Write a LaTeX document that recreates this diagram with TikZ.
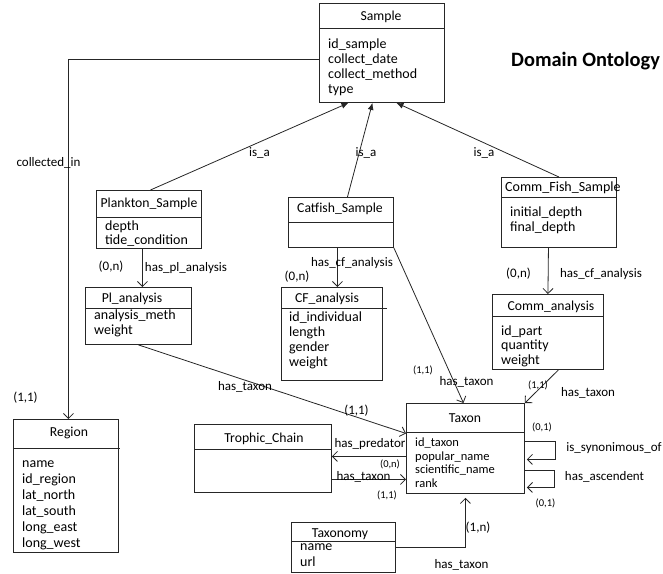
\documentclass[tikz,border=0pt]{standalone}
\usepackage{fontspec}
\setmainfont{Carlito}
\usetikzlibrary{arrows.meta}

\begin{document}
\begin{tikzpicture}[x=1pt, y=-1pt,
  cls/.style={rectangle, draw=black!85, line width=0.9pt, anchor=north west, inner sep=0pt},
  ttl/.style={anchor=base, inner sep=0pt, font=\fontsize{13.7}{15}\selectfont},
  attr/.style={anchor=north west, inner sep=0pt, align=left, font=\fontsize{14}{15}\selectfont},
  lbl/.style={inner sep=0pt, font=\fontsize{13}{15}\selectfont},
  sml/.style={inner sep=0pt, font=\fontsize{10.5}{12}\selectfont},
  hline/.style={draw=black!85, line width=0.9pt},
  arrow/.style={draw=black!85, line width=0.8pt, -{Straight Barb[length=5pt,width=10pt]}},
  isa/.style={draw=black!85, line width=0.8pt, -{Latex[length=7pt,width=6pt]}}]

  \useasboundingbox (0,0) rectangle (663,573);

  % Classes
  \node (sample) [cls, minimum width=125, minimum height=99] at (319,3) {};
  \node (plankton) [cls, minimum width=105, minimum height=58] at (96,190) {};
  \node (catfish) [cls, minimum width=105, minimum height=50] at (288,197) {};
  \node (commfish) [cls, minimum width=115, minimum height=70] at (501,177) {};
  \node (pl) [cls, minimum width=106, minimum height=57] at (85,287) {};
  \node (cf) [cls, minimum width=101, minimum height=93] at (281,287) {};
  \node (comm) [cls, minimum width=111, minimum height=75] at (492,294) {};
  \node (region) [cls, minimum width=105, minimum height=133] at (13,419) {};
  \node (taxon) [cls, minimum width=118, minimum height=90] at (406,403) {};
  \node (trophic) [cls, minimum width=137, minimum height=68] at (194,424) {};
  \node (taxonomy) [cls, minimum width=104, minimum height=50] at (291,522) {};

  % Header lines
  \draw [hline] (sample.west |- 0,28) -- (sample.east |- 0,28);
  \draw [hline] (plankton.west |- 0,217) -- (plankton.east |- 0,217);
  \draw [hline] (catfish.west |- 0,222) -- (catfish.east |- 0,222);
  \draw [hline] (commfish.west |- 0,197) -- (commfish.east |- 0,197);
  \draw [hline] (pl.west |- 0,308) -- (pl.east |- 0,308);
  \draw [hline] (cf.west |- 0,308) -- ([xshift=4]cf.east |- 0,308);
  \draw [hline] (comm.west |- 0,316) -- (comm.east |- 0,316);
  \draw [hline] (region.west |- 0,448) -- ([xshift=1]region.east |- 0,448);
  \draw [hline] (taxon.west |- 0,432) -- (taxon.east |- 0,432);
  \draw [hline] (trophic.west |- 0,449) -- (trophic.east |- 0,449);
  \draw [hline] (taxonomy.west |- 0,541) -- (taxonomy.east |- 0,541);

  % Titles
  \node (sampletitle) [ttl] at (381,20) {Sample};
  \node (planktontitle) [ttl] at (149,207) {Plankton\_Sample};
  \node (catfishtitle) [ttl] at (340,212) {Catfish\_Sample};
  \node (commfishtitle) [ttl, anchor=base west, font=\fontsize{14}{15}\selectfont] at (505,191) {Comm\_Fish\_Sample};
  \node (pltitle) [ttl] at (132,302) {Pl\_analysis};
  \node (cftitle) [ttl] at (327,302) {CF\_analysis};
  \node (commtitle) [ttl] at (551,310) {Comm\_analysis};
  \node (regiontitle) [ttl] at (69,436) {Region};
  \node (taxontitle) [ttl] at (465,422) {Taxon};
  \node (trophictitle) [ttl] at (264,442) {Trophic\_Chain};
  \node (taxonomytitle) [ttl] at (340,537) {Taxonomy};

  % Attributes
  \node (sampleattr) [attr] at (328,38) {\strut id\_sample\\collect\_date\\collect\_method\\type};
  \node (planktonattr) [attr, font=\fontsize{14}{14}\selectfont] at (105,220) {\strut depth\\tide\_condition};
  \node (commfishattr) [attr] at (510,206) {\strut initial\_depth\\final\_depth};
  \node (plattr) [attr] at (94,309) {\strut analysis\_meth\\weight};
  \node (cfattr) [attr] at (289,311) {\strut id\_individual\\length\\gender\\weight};
  \node (commattr) [attr, font=\fontsize{14}{14.5}\selectfont] at (501,325) {\strut id\_part\\quantity\\weight};
  \node (regionattr) [attr, font=\fontsize{14}{16}\selectfont] at (22,456) {\strut name\\id\_region\\lat\_north\\lat\_south\\long\_east\\long\_west};
  \node (taxonattr) [attr, font=\fontsize{12.5}{13.7}\selectfont] at (415,436.6) {\strut id\_taxon\\popular\_name\\scientific\_name\\rank};
  \node (taxonomyattr) [attr, font=\fontsize{14}{16}\selectfont] at (300,539) {\strut name\\url};

  \node (heading) [anchor=base west, inner sep=0pt, font=\fontsize{20.4}{24}\selectfont\bfseries] at (511,66.5) {Domain Ontology};

  % Arrows
  \draw [arrow] ([yshift=-6.5]sample.west) -| ([xshift=2.5]region.north);
  \draw [isa] ([xshift=1.5]plankton.north) -- ([xshift=-33.5]sample.south);
  \draw [isa] ([xshift=6.5]catfish.north) -- ([xshift=-9.5]sample.south);
  \draw [isa] (commfish.north) -- ([xshift=14.5]sample.south);
  \draw [arrow] ([xshift=-6.5]plankton.south) -- ([xshift=4]pl.north);
  \draw [arrow] ([xshift=-3.5]catfish.south) -- ([xshift=5.5]cf.north);
  \draw [arrow] ([xshift=-10.5]commfish.south) -- (comm.north);
  \draw [arrow] (pl.south) -- ([yshift=15]taxon.west);
  \draw [arrow] (catfish.south east) -- ([xshift=-2]taxon.north);
  \draw [arrow] ([xshift=10.5]comm.south) -- (taxon.north east);
  \draw [arrow] ([yshift=-8]taxon.west) -- ([yshift=2]trophic.east);
  \draw [arrow] ([yshift=-21]trophic.east) -- ([yshift=-31]taxon.west);
  \draw [arrow] (taxonomy.east) -| ([yshift=-4]taxon.south);
  \draw [arrow] ([yshift=7]taxon.east) -- ++(30,0) |- ([xshift=2,yshift=-11]taxon.east);
  \draw [arrow] ([yshift=-22]taxon.east) -- ++(29,0) |- ([xshift=2,yshift=-39]taxon.east);

  % Labels
  \node (collectedin) [lbl] at (48.5,163) {collected\_in};
  \node (regioncard) [lbl] at (25.5,398) {(1,1)};
  \node (isaplankton) [lbl] at (259.5,153) {is\_a};
  \node (isacatfish) [lbl] at (366,153) {is\_a};
  \node (isacomm) [lbl] at (484,153) {is\_a};
  \node (plcard) [lbl] at (111,267) {(0,n)};
  \node (hasplanalysis) [lbl] at (186,268) {has\_pl\_analysis};
  \node (hascfanalysis) [lbl] at (352,263) {has\_cf\_analysis};
  \node (cfcard) [lbl] at (297,277) {(0,n)};
  \node (commcard) [lbl] at (518.5,274) {(0,n)};
  \node (hascommanalysis) [lbl] at (601,274) {has\_cf\_analysis};
  \node (catfishtaxoncard) [sml] at (423,370) {(1,1)};
  \node (catfishtaxon) [lbl] at (466.5,382) {has\_taxon};
  \node (commtaxoncard) [sml] at (538,385) {(1,1)};
  \node (commtaxon) [lbl] at (588,393) {has\_taxon};
  \node (pltaxon) [lbl] at (245,387) {has\_taxon};
  \node (pltaxoncard) [lbl] at (356.5,411) {(1,1)};
  \node (haspredator) [lbl] at (370,444) {has\_predator};
  \node (predatorcard) [sml] at (390,464) {(0,n)};
  \node (trophictaxon) [lbl] at (363.5,477) {has\_taxon};
  \node (trophiccard) [sml] at (387,495) {(1,1)};
  \node (taxonomycard) [lbl] at (478,528) {(1,n)};
  \node (taxonomytaxon) [lbl] at (461.5,565) {has\_taxon};
  \node (synonimcard) [sml] at (542,427) {(0,1)};
  \node (synonim) [lbl] at (614,448) {is\_synonimous\_of};
  \node (ascendent) [lbl] at (604.5,477) {has\_ascendent};
  \node (ascendentcard) [sml] at (545.5,503) {(0,1)};

\end{tikzpicture}
\end{document}
